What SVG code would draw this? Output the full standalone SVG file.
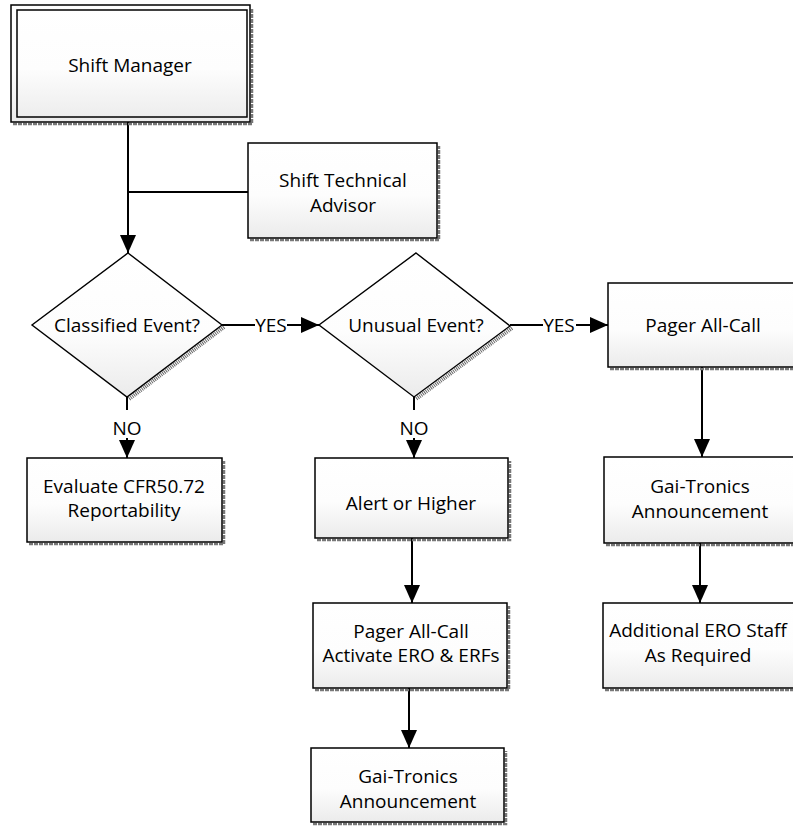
<svg xmlns="http://www.w3.org/2000/svg" width="793" height="833" viewBox="0 0 793 833">
  <defs>
    <linearGradient id="fillGrad" x1="0" y1="0" x2="0" y2="1">
      <stop offset="0" stop-color="#ffffff"/>
      <stop offset="0.55" stop-color="#fdfdfd"/>
      <stop offset="1" stop-color="#ebebeb"/>
    </linearGradient>
    <marker id="arrow" viewBox="0 0 18 16" refX="18" refY="8" markerWidth="18" markerHeight="16" markerUnits="userSpaceOnUse" orient="auto">
      <path d="M0,0 L18,8 L0,16 Z" fill="#000"/>
    </marker>
  </defs>
  <style>
    .box { fill: url(#fillGrad); stroke: #000; stroke-width: 1.5; }
    .shadow { fill: none; stroke: #777; stroke-width: 2.5; stroke-dasharray: 4 1; }
    .dshadow { fill: none; stroke: #666; stroke-width: 4; stroke-dasharray: 1 1; }
    .dia { fill: url(#fillGrad); stroke: #000; stroke-width: 1.4; }
    .conn { fill: none; stroke: #000; stroke-width: 2; }
    text { font-family: "Open Sans", "Noto Sans", "Liberation Sans", sans-serif; font-size: 19px; fill: #000; text-anchor: middle; }
  </style>

  <g id="connectors">
    <line class="conn" x1="128" y1="122" x2="128" y2="253" marker-end="url(#arrow)"/>
    <line class="conn" x1="248" y1="192" x2="128" y2="192"/>
    <line class="conn" x1="222" y1="325" x2="255" y2="325"/>
    <text x="271" y="332">YES</text>
    <line class="conn" x1="287" y1="325" x2="319" y2="325" marker-end="url(#arrow)"/>
    <line class="conn" x1="127" y1="397" x2="127" y2="410"/>
    <text x="127" y="435">NO</text>
    <line class="conn" x1="127" y1="438" x2="127" y2="458" marker-end="url(#arrow)"/>
    <line class="conn" x1="510" y1="325" x2="543" y2="325"/>
    <text x="559" y="332">YES</text>
    <line class="conn" x1="576" y1="325" x2="608" y2="325" marker-end="url(#arrow)"/>
    <line class="conn" x1="414" y1="397" x2="414" y2="410"/>
    <text x="414" y="435">NO</text>
    <line class="conn" x1="414" y1="438" x2="414" y2="458" marker-end="url(#arrow)"/>
    <line class="conn" x1="412" y1="538" x2="412" y2="603" marker-end="url(#arrow)"/>
    <line class="conn" x1="409" y1="688" x2="409" y2="748" marker-end="url(#arrow)"/>
    <line class="conn" x1="702" y1="367" x2="702" y2="457" marker-end="url(#arrow)"/>
    <line class="conn" x1="700" y1="543" x2="700" y2="603" marker-end="url(#arrow)"/>
  </g>

  <g id="shift-manager">
    <polyline class="shadow" points="13,124 252,124 252,8"/>
    <rect x="11" y="5" width="239" height="117" fill="url(#fillGrad)" stroke="#000" stroke-width="1.5"/>
    <rect x="17" y="10" width="230" height="107" fill="none" stroke="#000" stroke-width="1.5"/>
    <text x="130" y="72">Shift Manager</text>
  </g>

  <g id="shift-technical-advisor">
    <polyline class="shadow" points="250,240 439,240 439,146"/>
    <rect class="box" x="248" y="143" width="189" height="95"/>
    <text x="343" y="187">Shift Technical</text>
    <text x="343" y="212">Advisor</text>
  </g>

  <g id="classified-event">
    <polyline class="dshadow" points="224,327 129,399"/>
    <polygon class="dia" points="128,253 222,325 127,397 32,325"/>
    <text x="127" y="332">Classified Event?</text>
  </g>

  <g id="unusual-event">
    <polyline class="dshadow" points="512,328 416,399"/>
    <polygon class="dia" points="416,253 510,326 414,397 319,325"/>
    <text x="416" y="332">Unusual Event?</text>
  </g>

  <g id="pager-all-call-right">
    <polyline class="shadow" points="610,369 798,369"/>
    <rect class="box" x="608" y="283" width="192" height="84"/>
    <text x="703" y="332">Pager All-Call</text>
  </g>

  <g id="evaluate-cfr">
    <polyline class="shadow" points="29,544 224,544 224,461"/>
    <rect class="box" x="27" y="458" width="195" height="84"/>
    <text x="124" y="493">Evaluate CFR50.72</text>
    <text x="124" y="517">Reportability</text>
  </g>

  <g id="alert-or-higher">
    <polyline class="shadow" points="317,540 510,540 510,461"/>
    <rect class="box" x="315" y="458" width="193" height="80"/>
    <text x="411" y="510">Alert or Higher</text>
  </g>

  <g id="pager-activate">
    <polyline class="shadow" points="315,690 509,690 509,606"/>
    <rect class="box" x="313" y="603" width="194" height="85"/>
    <text x="411" y="638">Pager All-Call</text>
    <text x="411" y="662">Activate ERO &amp; ERFs</text>
  </g>

  <g id="gai-tronics-middle">
    <polyline class="shadow" points="313,824 506,824 506,751"/>
    <rect class="box" x="311" y="748" width="193" height="74"/>
    <text x="408" y="783">Gai-Tronics</text>
    <text x="408" y="808">Announcement</text>
  </g>

  <g id="gai-tronics-right">
    <polyline class="shadow" points="606,545 798,545"/>
    <rect class="box" x="604" y="457" width="196" height="86"/>
    <text x="700" y="493">Gai-Tronics</text>
    <text x="700" y="518">Announcement</text>
  </g>

  <g id="additional-ero-staff">
    <polyline class="shadow" points="605,690 798,690"/>
    <rect class="box" x="603" y="603" width="197" height="85"/>
    <text x="698" y="637">Additional ERO Staff</text>
    <text x="698" y="662">As Required</text>
  </g>
</svg>
